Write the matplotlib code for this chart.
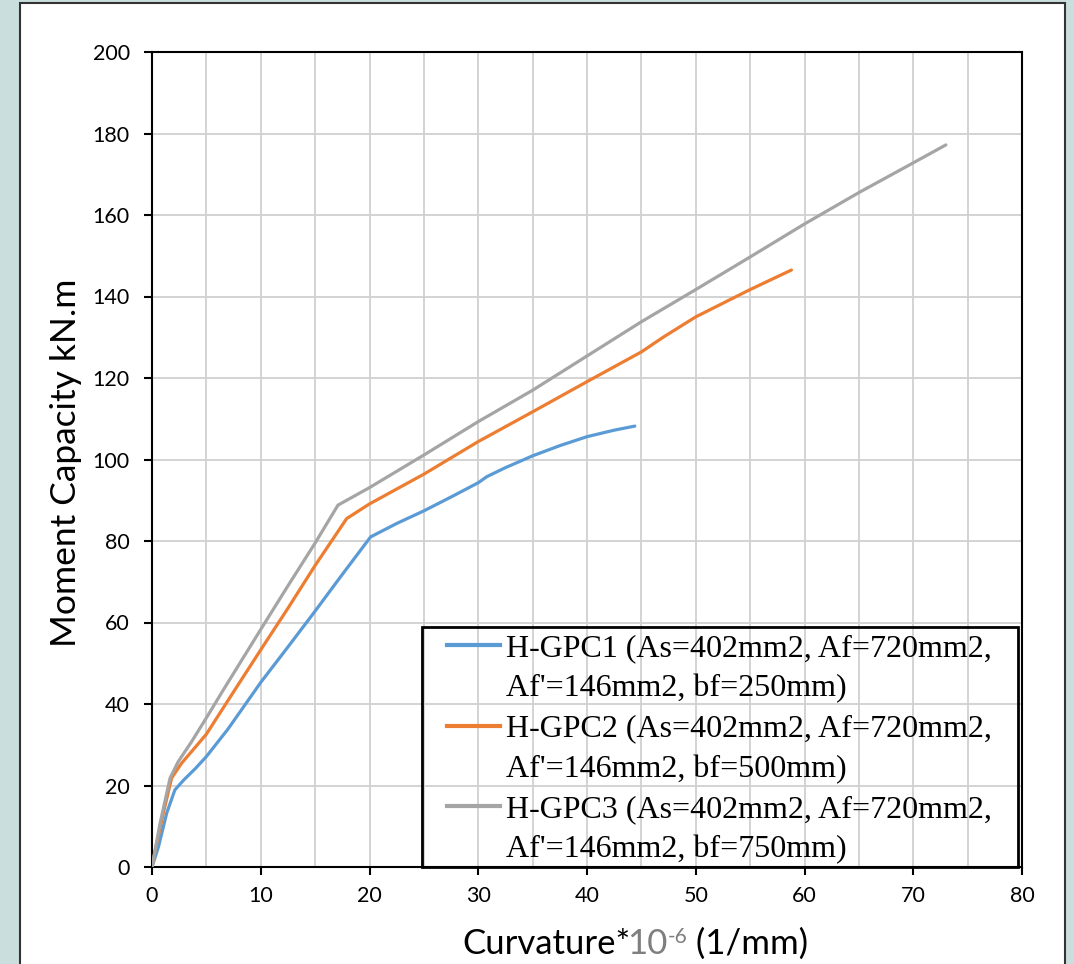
import matplotlib
matplotlib.use("Agg")
import matplotlib.pyplot as plt
from matplotlib.patches import Rectangle
from matplotlib.lines import Line2D
from matplotlib.ticker import MultipleLocator

# ---------------- data ----------------
x_gpc1 = [0, 0.6, 1.35, 2.1, 2.9, 4, 5, 7, 10, 12.5, 15, 17.5, 20.1,
          22.5, 25, 27.5, 30, 30.8, 32.5, 35, 37.5, 40, 42.5, 44.4]
y_gpc1 = [0, 5.0, 13.2, 18.9, 21.3, 24.2, 27.1, 33.9, 45.3, 54.0,
          62.8, 71.8, 81.0, 84.3, 87.4, 90.8, 94.3, 95.8, 98.0, 100.9, 103.4,
          105.6, 107.2, 108.2]

x_gpc2 = [0, 0.3, 1.04, 1.8, 2.7, 3.95, 5, 7.6, 10, 12.5, 15, 17.9, 20, 25,
          30, 35, 40, 45, 47, 50, 55, 58.8]
y_gpc2 = [0, 4.2, 13.2, 21.8, 25.4, 29.3, 32.6, 43.4, 53.3, 63.5, 74.0,
          85.5, 89.1, 96.4, 104.4, 111.7, 119.1, 126.4, 130.0, 135.0, 141.7,
          146.5]

x_gpc3 = [0, 0.74, 1.66, 2.4, 3.65, 5, 6.5, 10, 12.5, 15, 17.1, 20, 25,
          30, 35, 40, 45, 50, 55, 60, 65, 70, 73]
y_gpc3 = [0, 10.7, 21.8, 25.8, 30.8, 36.6, 43.2, 58.3, 69.0,
          79.5, 88.8, 93.1, 101.1, 109.3, 117.0, 125.4, 133.8, 141.7, 149.7,
          157.8, 165.5, 172.8, 177.2]

labels_line1 = ["H-GPC1 (As=402mm2, Af=720mm2,",
                "H-GPC2 (As=402mm2, Af=720mm2,",
                "H-GPC3 (As=402mm2, Af=720mm2,"]
labels_line2 = ["Af'=146mm2, bf=250mm)",
                "Af'=146mm2, bf=500mm)",
                "Af'=146mm2, bf=750mm)"]
colors = ["#5B9BD5", "#ED7D31", "#A5A5A5"]

x_ticks = [0, 10, 20, 30, 40, 50, 60, 70, 80]
y_ticks = [0, 20, 40, 60, 80, 100, 120, 140, 160, 180, 200]

# ---------------- figure ----------------
W, H = 1074, 964
fig = plt.figure(figsize=(W / 100, H / 100), dpi=100)
fig.patch.set_facecolor("#C9DEDD")

# white chart panel
fig.patches.append(Rectangle((20 / W, -0.02), (1065 - 20) / W, 1 - 3 / H + 0.02,
                             transform=fig.transFigure, facecolor="white",
                             edgecolor="#333333", linewidth=1.5, zorder=-5))

ax = fig.add_axes([152 / W, 1 - 867 / H, (1022 - 152) / W, (867 - 52) / H])
ax.set_facecolor("white")

series = [(x_gpc1, y_gpc1), (x_gpc2, y_gpc2), (x_gpc3, y_gpc3)]
handles = []
for (xs, ys), c in zip(series, colors):
    ln, = ax.plot(xs, ys, color=c, linewidth=2.3, solid_capstyle="round",
                  solid_joinstyle="round", zorder=3)
    handles.append(ln)

ax.set_xlim(0, 80)
ax.set_ylim(0, 200)
ax.set_xticks(x_ticks)
ax.set_yticks(y_ticks)
ax.xaxis.set_minor_locator(MultipleLocator(5))
ax.grid(True, which="both", axis="x", color="#D0D0D0", linewidth=1.3, zorder=1)
ax.grid(True, which="major", axis="y", color="#D0D0D0", linewidth=1.3, zorder=1)
ax.set_axisbelow(True)

for sp in ax.spines.values():
    sp.set_color("black")
    sp.set_linewidth(1.5)

tick_font = "Lato"
ax.tick_params(axis="both", which="major", direction="out", length=6,
               width=1.5, color="black", labelsize=15.5, labelcolor="black")
ax.tick_params(axis="y", pad=10)
ax.tick_params(axis="x", pad=8)
ax.tick_params(axis="both", which="minor", length=0)
for lab in ax.get_xticklabels() + ax.get_yticklabels():
    lab.set_fontfamily(tick_font)

# y label
ax.set_ylabel("Moment Capacity kN.m", fontsize=25.5, fontfamily=tick_font,
              color="black")
ax.yaxis.set_label_coords(-0.0805, 0.4957)

# x label composed of coloured pieces
t1 = fig.text(462 / W, 1 - 960 / H, "Curvature*", fontsize=25,
              fontfamily=tick_font, color="black", ha="left", va="bottom")
t2 = ax.annotate("10", xy=(1, 0), xycoords=t1, xytext=(-2, 0),
                 textcoords="offset points", fontsize=25,
                 fontfamily=tick_font, color="#7F7F7F", ha="left", va="bottom",
                 annotation_clip=False)
t3 = ax.annotate("-6", xy=(1, 0.42), xycoords=t2, fontsize=15,
                 fontfamily=tick_font, color="#7F7F7F", ha="left", va="bottom",
                 annotation_clip=False)
t4 = ax.annotate(" (1/mm)", xy=(1, 0), xycoords=t2,
                 xytext=(14, 0), textcoords="offset points", fontsize=25,
                 fontfamily=tick_font, color="black", ha="left", va="bottom",
                 annotation_clip=False)

# legend: frame drawn separately, entries split across two text lines
ax.add_patch(Rectangle((0.31, 0.0), 0.6854, 0.2949, transform=ax.transAxes,
                       fill=False, edgecolor="black", linewidth=2.0,
                       clip_on=False, zorder=5))
leg_handles, leg_labels = [], []
for h, l1, l2 in zip(handles, labels_line1, labels_line2):
    leg_handles.append(Line2D([], [], color=h.get_color(), linewidth=3))
    leg_labels.append(l1)
    leg_handles.append(Line2D([], [], color="none"))
    leg_labels.append(l2)
leg = ax.legend(leg_handles, leg_labels, loc="upper left",
                bbox_to_anchor=(0.339, 0.286), frameon=False, borderpad=0,
                borderaxespad=0, handlelength=1.65, handletextpad=0.2,
                labelspacing=0.34,
                prop={"family": "Liberation Serif", "size": 23})

fig.savefig("out.png", dpi=100, facecolor=fig.get_facecolor())
